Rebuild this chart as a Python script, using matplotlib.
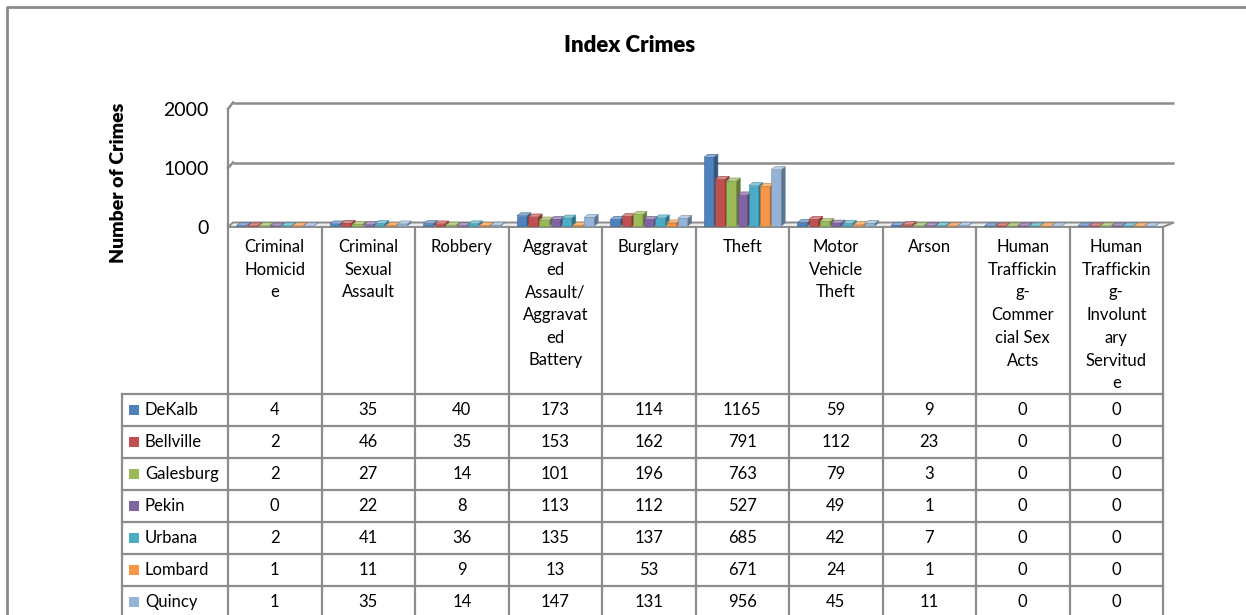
import matplotlib
matplotlib.use('Agg')
import matplotlib.pyplot as plt
import matplotlib.colors as mcolors
from matplotlib.patches import Polygon, Rectangle

plt.rcParams['font.family'] = ['Lato', 'DejaVu Sans']

# Datos del grafico
categories = ['Criminal\nHomicid\ne', 'Criminal\nSexual\nAssault', 'Robbery',
              'Aggravat\ned\nAssault/\nAggravat\ned\nBattery', 'Burglary', 'Theft',
              'Motor\nVehicle\nTheft', 'Arson',
              'Human\nTraffickin\ng-\nCommer\ncial Sex\nActs',
              'Human\nTraffickin\ng-\nInvolunt\nary\nServitud\ne']
cities = ['DeKalb', 'Bellville', 'Galesburg', 'Pekin', 'Urbana', 'Lombard', 'Quincy']
dekalb = [4, 35, 40, 173, 114, 1165, 59, 9, 0, 0]
bellville = [2, 46, 35, 153, 162, 791, 112, 23, 0, 0]
galesburg = [2, 27, 14, 101, 196, 763, 79, 3, 0, 0]
pekin = [0, 22, 8, 113, 112, 527, 49, 1, 0, 0]
urbana = [2, 41, 36, 135, 137, 685, 42, 7, 0, 0]
lombard = [1, 11, 9, 13, 53, 671, 24, 1, 0, 0]
quincy = [1, 35, 14, 147, 131, 956, 45, 11, 0, 0]
series = [dekalb, bellville, galesburg, pekin, urbana, lombard, quincy]
colors = ['#4F81BD', '#C0504D', '#9BBB59', '#8064A2', '#4BACC6', '#F79646', '#95B3D7']
yticks = [0, 1000, 2000]

W, H = 1246, 615
fig = plt.figure(figsize=(W / 100, H / 100), dpi=100)


def box(x0, ytop, x1, ybot):
    # caja en pixeles -> fracciones de figura
    return [x0 / W, 1 - ybot / H, (x1 - x0) / W, (ybot - ytop) / H]


ov = fig.add_axes([0, 0, 1, 1], zorder=0)
ov.set_xlim(0, W)
ov.set_ylim(H, 0)
ov.axis('off')

axb = fig.add_axes(box(233, 102.5, 1174, 222.5), zorder=1)  # pared del fondo
ax = fig.add_axes(box(228, 109, 1163, 227), zorder=2)       # plano frontal
n = len(categories)
for a in (ax, axb):
    a.set_xlim(0, n)
    a.set_ylim(0, 2000)
    a.patch.set_visible(False)
    for s in a.spines.values():
        s.set_visible(False)
    a.set_xticks([])
axb.set_yticks([])
ax.set_yticks(yticks)
ax.tick_params(axis='y', length=0, pad=14, labelsize=14)

grid_c = '#8c8c8c'


def to_ov(a, x, y):
    return ov.transData.inverted().transform(a.transData.transform((x, y)))


# lineas de cuadricula y paredes
axb.hlines(yticks[1:], 0, n, color=grid_c, lw=1.8, clip_on=False)
for v in yticks[1:]:
    p0 = to_ov(ax, 0, v)
    p1 = to_ov(axb, 0, v)
    ov.plot([p0[0], p1[0]], [p0[1], p1[1]], color=grid_c, lw=1.8)
p0 = to_ov(ax, 0, 0)
p1 = to_ov(ax, 0, 2000)
ov.plot([p0[0], p1[0]], [p0[1], p1[1]], color=grid_c, lw=1.6)
floor = [to_ov(ax, 0, 0), to_ov(ax, n, 0), to_ov(axb, n, 0), to_ov(axb, 0, 0)]
ov.add_patch(Polygon(floor, closed=True, facecolor='#ececec', edgecolor=grid_c, lw=1.4))

# barras 3D
ux = n / 935.0
uy = 2000 / 118.0
pitch = 0.12
fw = 10 * ux
dxs, dys = 4 * ux, 3 * uy
y0 = 1 * uy
for i, vals in enumerate(series):
    base = mcolors.to_rgb(colors[i])
    side = tuple(c * 0.65 for c in base)
    top = tuple(c + (1 - c) * 0.35 for c in base)
    edge = tuple(c * 0.8 for c in base)
    for j, v in enumerate(vals):
        x0 = j + 0.09 + i * pitch
        z = 3 + i * 0.01
        ax.add_patch(Rectangle((x0, y0), fw, v, facecolor=base, edgecolor=edge,
                               lw=0.4, zorder=z, clip_on=False))
        ax.add_patch(Polygon([(x0 + fw, y0), (x0 + fw + dxs, y0 + dys),
                              (x0 + fw + dxs, y0 + v + dys), (x0 + fw, y0 + v)],
                             facecolor=side, edgecolor=edge, lw=0.4, zorder=z, clip_on=False))
        ax.add_patch(Polygon([(x0, y0 + v), (x0 + fw, y0 + v),
                              (x0 + fw + dxs, y0 + v + dys), (x0 + dxs, y0 + v + dys)],
                             facecolor=top, edgecolor=edge, lw=0.4, zorder=z, clip_on=False))

# tabla de datos
col_edges = [to_ov(ax, k, 0)[0] for k in range(n + 1)]
row_top = 394
row_h = 32
line_c = '#8c8c8c'
for x in col_edges:
    ov.plot([x, x], [227, H], color=line_c, lw=1.6)
ov.plot([122, 122], [row_top, H], color=line_c, lw=1.6)
for k in range(len(cities) + 1):
    y = row_top + k * row_h
    ov.plot([122, col_edges[-1]], [y, y], color=line_c, lw=1.6)

for j, cat in enumerate(categories):
    xc = (col_edges[j] + col_edges[j + 1]) / 2
    for k, line in enumerate(cat.split('\n')):
        ov.text(xc, 247 + k * 22.7, line, ha='center', va='center', fontsize=12)

for r, (city, vals) in enumerate(zip(cities, series)):
    yc = row_top + row_h / 2 + r * row_h
    ov.add_patch(Rectangle((129, yc - 5), 10, 10, facecolor=colors[r], edgecolor='none'))
    ov.text(145, yc, city, ha='left', va='center', fontsize=12)
    for j, v in enumerate(vals):
        xc = (col_edges[j] + col_edges[j + 1]) / 2
        ov.text(xc, yc, str(v), ha='center', va='center', fontsize=12)

# titulo, etiqueta del eje y marco
ov.text(630, 45, 'Index Crimes', ha='center', va='center', fontsize=16, fontweight='heavy')
ov.text(118, 183, 'Number of Crimes', ha='center', va='center', rotation=90,
        fontsize=14, fontweight='heavy')
ov.plot([7, 7, W], [H, 7, 7], color='#8a8a8a', lw=2)

fig.savefig('out.png', dpi=100)
